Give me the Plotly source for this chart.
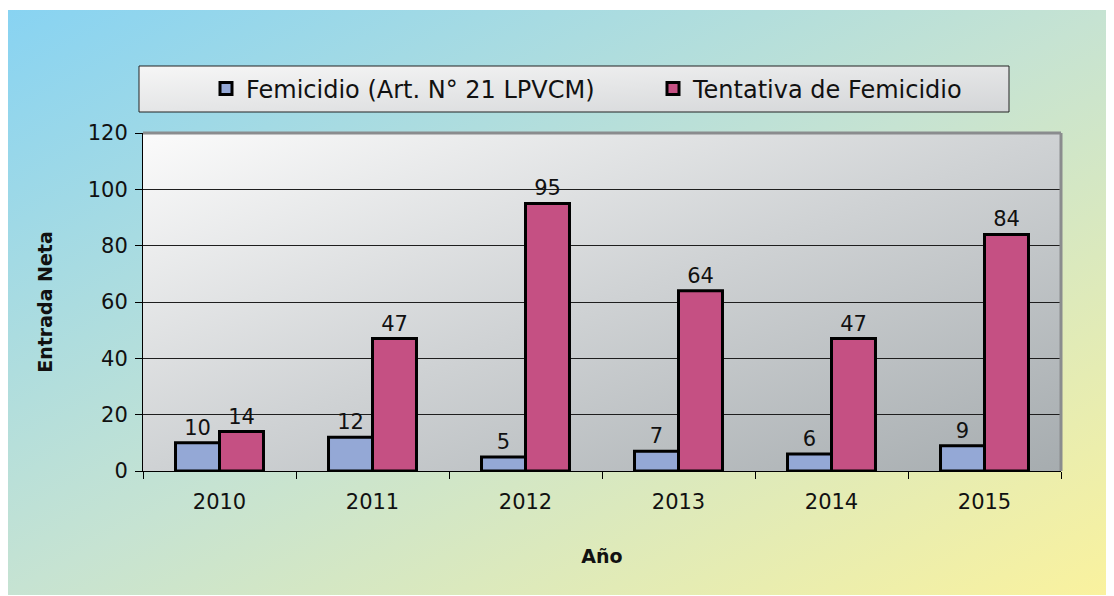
import base64
import plotly.graph_objects as go

years = ["2010", "2011", "2012", "2013", "2014", "2015"]
femicidio = [10, 12, 5, 7, 6, 9]
tentativa = [14, 47, 95, 64, 47, 84]
series_names = ["Femicidio (Art. N° 21 LPVCM)", "Tentativa de Femicidio"]
y_ticks = [0, 20, 40, 60, 80, 100, 120]

OFF = 8  # page body margin added by the browser
W, H = 1114 - OFF, 596 - OFF
# plot area in screen pixels
L, R, T, B = 143, 1061, 133, 471
PW, PH = R - L, B - T


def px_x(px):
    return (px - L) / PW


def px_y(py):
    return (B - py) / PH


def grad_svg(stops, x2=1, y2=1):
    st = "".join(f'<stop offset="{o}" stop-color="{c}"/>' for o, c in stops)
    svg = (f'<svg xmlns="http://www.w3.org/2000/svg" width="100" height="100" viewBox="0 0 100 100" preserveAspectRatio="none">'
           f'<defs><linearGradient id="g" x1="0" y1="0" x2="{x2}" y2="{y2}">{st}</linearGradient></defs>'
           f'<rect x="0" y="0" width="100" height="100" fill="url(#g)"/></svg>')
    return "data:image/svg+xml;base64," + base64.b64encode(svg.encode()).decode()


FONT = "'DejaVu Sans', Verdana, sans-serif"

fig = go.Figure()
fig.add_trace(go.Bar(
    x=years, y=femicidio, name=series_names[0],
    marker=dict(color="#94a8d6", line=dict(color="black", width=3)),
    text=femicidio, textposition="outside", cliponaxis=False,
    textfont=dict(size=21, color="#111"),
))
fig.add_trace(go.Bar(
    x=years, y=tentativa, name=series_names[1],
    marker=dict(color="#c55083", line=dict(color="black", width=3)),
    text=tentativa, textposition="outside", cliponaxis=False,
    textfont=dict(size=21, color="#111"),
))

images = [
    # page background gradient
    dict(source=grad_svg([(0, "#88d3f2"), (0.5, "#c6e3d2"), (1, "#faf29e")], 1, 1),
         xref="paper", yref="paper", x=px_x(7), y=px_y(10),
         sizex=(1114 - 7) / PW, sizey=(595 - 10) / PH,
         xanchor="left", yanchor="top", sizing="stretch", layer="below"),
    # plot area gradient
    dict(source=grad_svg([(0, "#fbfbfb"), (0.5, "#cfd2d4"), (1, "#a6acaf")], 1, 1),
         xref="paper", yref="paper", x=0, y=1, sizex=1, sizey=1,
         xanchor="left", yanchor="top", sizing="stretch", layer="below"),
    # legend box gradient
    dict(source=grad_svg([(0, "#f6f6f6"), (1, "#d3d5d7")], 1, 1),
         xref="paper", yref="paper", x=px_x(139), y=px_y(66),
         sizex=(1009 - 139) / PW, sizey=(112 - 66) / PH,
         xanchor="left", yanchor="top", sizing="stretch", layer="below"),
]

shapes = [
    dict(type="rect", xref="paper", yref="paper", x0=px_x(139), x1=px_x(1009),
         y0=px_y(66), y1=px_y(112), line=dict(color="#222", width=1), fillcolor="rgba(0,0,0,0)"),
    dict(type="line", xref="paper", yref="paper", x0=0, x1=1, y0=1, y1=1,
         line=dict(color="#8a8c8e", width=3), layer="above"),
    dict(type="line", xref="paper", yref="paper", x0=1, x1=1, y0=0, y1=1,
         line=dict(color="#8a8c8e", width=3), layer="above"),
]

fig.update_layout(
    width=W, height=H,
    margin=dict(l=L - OFF, r=W - (R - OFF), t=T - OFF, b=H - (B - OFF)),
    paper_bgcolor="white", plot_bgcolor="rgba(0,0,0,0)",
    barmode="group", bargap=0.425, bargroupgap=0,
    font=dict(family=FONT, color="#111", size=21),
    images=images, shapes=shapes,
    showlegend=True,
    legend=dict(orientation="h", x=px_x(206), y=px_y(89), xanchor="left", yanchor="middle",
                bgcolor="rgba(0,0,0,0)", borderwidth=0, font=dict(size=24, color="#111"),
                entrywidth=402, entrywidthmode="pixels", traceorder="normal"),
    xaxis=dict(
        type="category", showline=True, linecolor="black", linewidth=1,
        ticks="outside", tickson="boundaries", ticklen=7, tickcolor="black",
        tickfont=dict(size=21), showgrid=False, ticklabelstandoff=12,
        title=dict(text="Año", font=dict(size=19, weight="bold"), standoff=36),
    ),
    yaxis=dict(
        range=[0, 120], tickvals=y_ticks, showline=True, linecolor="black", linewidth=1,
        ticks="outside", ticklen=7, tickcolor="black", tickfont=dict(size=21),
        ticklabelstandoff=3,
        showgrid=True, gridcolor="#1e1e1e", gridwidth=1, zeroline=False,
        title=dict(text="Entrada Neta", font=dict(size=19, weight="bold"), standoff=30),
    ),
)

fig.write_html("out.html")
